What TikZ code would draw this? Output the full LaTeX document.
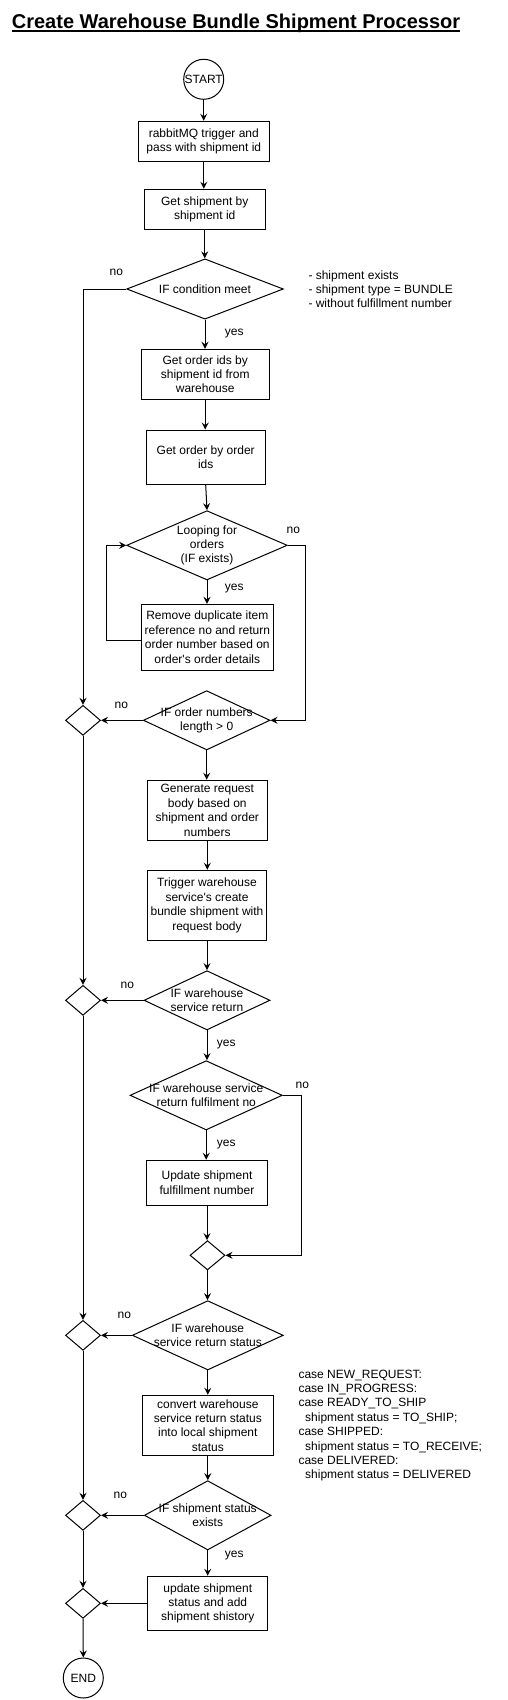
\documentclass[tikz,border=0pt]{standalone}
\usepackage{fontspec}
\setmainfont{Liberation Sans}[Ligatures=TeXOff]
\usetikzlibrary{shapes.geometric,arrows.meta}
\begin{document}
\begin{tikzpicture}[x=1pt,y=-1pt,
  base/.style={font=\fontsize{12}{14.4}\selectfont, text=black},
  box/.style={draw, line width=1pt, rectangle, inner sep=0pt, align=center, base},
  dia/.style={draw, line width=1pt, diamond, inner sep=0pt, base},
  term/.style={draw, line width=1pt, circle, inner sep=0pt, minimum size=40pt, base},
  arr/.style={line width=1pt, -{Stealth[length=7pt,width=7pt,inset=2.5pt]}},
  lbl/.style={base, inner sep=0pt},
  dl/.style={label={[base, align=center]center:#1}}
]
\useasboundingbox (0,0) rectangle (507,1700);

% title
\node[anchor=base west, inner sep=0pt, font=\fontsize{20}{24}\selectfont\bfseries] (title) at (11.7,28.3) {Create Warehouse Bundle Shipment Processor};
\draw[line width=1.3pt] ([yshift=-2.8pt]title.base west) -- ([yshift=-2.8pt]title.base east);

% nodes
\node[term] (start) at (203.7,79.3) {START};
\node[box, minimum width=131pt, minimum height=40pt] (b1) at (203.8,141.3) {rabbitMQ trigger and\\pass with shipment id};
\node[box, minimum width=120.7pt, minimum height=40pt] (b2) at (204.7,209.3) {Get shipment by\\shipment id};
\node[dia, minimum width=156.7pt, minimum height=60.3pt, dl={IF condition meet}] (d1) at (205,289) {};
\node[box, minimum width=128.3pt, minimum height=50pt] (b3) at (205.2,374.3) {Get order ids by\\shipment id from\\warehouse};
\node[box, minimum width=118.7pt, minimum height=54.3pt] (b4) at (205.7,457.2) {Get order by order\\ids};
\node[dia, minimum width=160.7pt, minimum height=69.3pt, dl={Looping for\\orders\\(IF exists)}] (d2) at (207,545.3) {};
\node[box, minimum width=132pt, minimum height=66pt] (b5) at (207.3,637.3) {Remove duplicate item\\reference no and return\\order number based on\\order's order details};
\node[dia, minimum width=126.7pt, minimum height=59.3pt, dl={IF order numbers\\length > 0}] (d3) at (206.7,720.3) {};
\node[dia, minimum width=35pt, minimum height=30pt] (m1) at (83,720.3) {};
\node[box, minimum width=120pt, minimum height=60pt] (b6) at (207.3,810.3) {Generate request\\body based on\\shipment and order\\numbers};
\node[box, minimum width=118.7pt, minimum height=70pt] (b7) at (207,905.3) {Trigger warehouse\\service's create\\bundle shipment with\\request body};
\node[dia, minimum width=126pt, minimum height=59.3pt, dl={IF warehouse\\service return}] (d4) at (207,1000.3) {};
\node[dia, minimum width=35pt, minimum height=30pt] (m2) at (83,1000.3) {};
\node[dia, minimum width=152.3pt, minimum height=69.3pt, dl={IF warehouse service\\return fulfilment no}] (d5) at (206.2,1095.3) {};
\node[box, minimum width=120.7pt, minimum height=45pt] (b8) at (207,1182.8) {Update shipment\\fulfillment number};
\node[dia, minimum width=35pt, minimum height=29.3pt] (m3) at (207.5,1255.3) {};
\node[dia, minimum width=151pt, minimum height=69.3pt, dl={IF warehouse\\service return status}] (d6) at (207.8,1335.3) {};
\node[dia, minimum width=35pt, minimum height=30pt] (m4) at (83,1335.3) {};
\node[box, minimum width=131pt, minimum height=60pt] (b9) at (207.8,1425.3) {convert warehouse\\service return status\\into local shipment\\status};
\node[dia, minimum width=126.7pt, minimum height=69.3pt, dl={IF shipment status\\exists}] (d7) at (207.7,1515.3) {};
\node[dia, minimum width=35pt, minimum height=30pt] (m5) at (83,1515.3) {};
\node[box, minimum width=120.3pt, minimum height=54pt] (b10) at (207.8,1603.3) {update shipment\\status and add\\shipment shistory};
\node[dia, minimum width=35pt, minimum height=30pt] (m6) at (83,1603.3) {};
\node[term] (end) at (83.3,1678) {END};

% annotations
\node[lbl, anchor=west, align=left] (n1) at (308.3,289.2) {- shipment exists\\- shipment type = BUNDLE\\- without fulfillment number};
\node[lbl, anchor=west, align=left] (n2) at (298.3,1425.5) {case NEW\_REQUEST:\\case IN\_PROGRESS:\\case READY\_TO\_SHIP\\\hspace*{6.7pt}shipment status = TO\_SHIP;\\case SHIPPED:\\\hspace*{6.7pt}shipment status = TO\_RECEIVE;\\case DELIVERED:\\\hspace*{6.7pt}shipment status = DELIVERED};

% main flow
\draw[arr] (start.south) -- (start.south |- b1.north);
\draw[arr] (b1.south) -- (b1.south |- b2.north);
\draw[arr] (b2.south) -- (b2.south |- d1.north);
\draw[arr] (d1.south) -- (d1.south |- b3.north);
\draw[arr] (b3.south) -- (b3.south |- b4.north);
\draw[arr] (b4.south) -- (d2.north);
\draw[arr] (d2.south) -- (d2.south |- b5.north);
\coordinate (lp) at (106.7,640.3);
\draw[arr] (b5.west |- lp) -- (lp) |- (d2.west);
\coordinate (r1) at (305.7,545.3);
\draw[arr] (d2.east) -- (r1) |- (d3.east);
\draw[arr] (d3.south) -- (d3.south |- b6.north);
\draw[arr] (b6.south) -- (b6.south |- b7.north);
\draw[arr] (b7.south) -- (b7.south |- d4.north);
\draw[arr] (d4.south) -- (d4.south |- d5.north);
\draw[arr] (d5.south) -- (d5.south |- b8.north);
\coordinate (r2) at (301.7,1095.3);
\draw[arr] (d5.east) -- (r2) |- (m3.east);
\draw[arr] (b8.south) -- (b8.south |- m3.north);
\draw[arr] (m3.south) -- (m3.south |- d6.north);
\draw[arr] (d6.south) -- (d6.south |- b9.north);
\draw[arr] (b9.south) -- (b9.south |- d7.north);
\draw[arr] (d7.south) -- (d7.south |- b10.north);

% left trunk
\draw[arr] (d1.west) -| (m1.north);
\draw[arr] (d3.west) -- (m1.east);
\draw[arr] (m1.south) -- (m2.north);
\draw[arr] (d4.west) -- (m2.east);
\draw[arr] (m2.south) -- (m4.north);
\draw[arr] (d6.west) -- (m4.east);
\draw[arr] (m4.south) -- (m5.north);
\draw[arr] (d7.west) -- (m5.east);
\draw[arr] (m5.south) -- (m6.north);
\draw[arr] (b10.west) -- (m6.east);
\draw[arr] (m6.south) -- (end.north);

% yes / no labels
\node[lbl] (l1) at (116.3,272.7) {no};
\node[lbl] (l2) at (234.3,333.7) {yes};
\node[lbl] (l3) at (293.3,530) {no};
\node[lbl] (l4) at (234.3,589) {yes};
\node[lbl] (l5) at (121.3,705) {no};
\node[lbl] (l6) at (127.3,985) {no};
\node[lbl] (l7) at (226.3,1045) {yes};
\node[lbl] (l8) at (302.3,1085) {no};
\node[lbl] (l9) at (226.3,1145) {yes};
\node[lbl] (l10) at (124.3,1315) {no};
\node[lbl] (l11) at (120.3,1495) {no};
\node[lbl] (l12) at (234.3,1555) {yes};
\end{tikzpicture}
\end{document}
